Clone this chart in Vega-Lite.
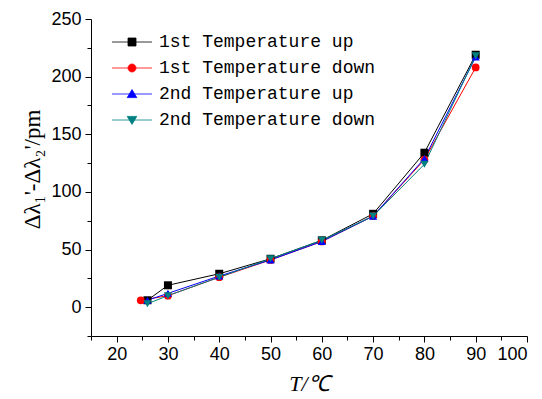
{
  "$schema": "https://vega.github.io/schema/vega-lite/v6.json",
  "autosize": "none",
  "width": 436,
  "height": 317,
  "padding": {"left": 91, "top": 19, "right": 15, "bottom": 63},
  "background": "white",
  "config": {
    "view": {"stroke": null},
    "axis": {"grid": false, "domainColor": "black", "tickColor": "black", "labelColor": "black", "titleColor": "black", "labelFont": "Liberation Sans", "labelFontSize": 18, "titleFont": "Liberation Serif", "titleFontSize": 22, "titleFontWeight": "normal"}
  },
  "data": {"values": [
    {"T": 26, "v": 6, "s": "1st Temperature up"},
    {"T": 30, "v": 19, "s": "1st Temperature up"},
    {"T": 40, "v": 29, "s": "1st Temperature up"},
    {"T": 50, "v": 42, "s": "1st Temperature up"},
    {"T": 60, "v": 58, "s": "1st Temperature up"},
    {"T": 70, "v": 81, "s": "1st Temperature up"},
    {"T": 80, "v": 134, "s": "1st Temperature up"},
    {"T": 90, "v": 219, "s": "1st Temperature up"},
    {"T": 24.7, "v": 6, "s": "1st Temperature down"},
    {"T": 30, "v": 10, "s": "1st Temperature down"},
    {"T": 40, "v": 26, "s": "1st Temperature down"},
    {"T": 50, "v": 41, "s": "1st Temperature down"},
    {"T": 60, "v": 57, "s": "1st Temperature down"},
    {"T": 70, "v": 79, "s": "1st Temperature down"},
    {"T": 80, "v": 128, "s": "1st Temperature down"},
    {"T": 90, "v": 208, "s": "1st Temperature down"},
    {"T": 26, "v": 6, "s": "2nd Temperature up"},
    {"T": 30, "v": 12, "s": "2nd Temperature up"},
    {"T": 40, "v": 27, "s": "2nd Temperature up"},
    {"T": 50, "v": 41, "s": "2nd Temperature up"},
    {"T": 60, "v": 57, "s": "2nd Temperature up"},
    {"T": 70, "v": 79, "s": "2nd Temperature up"},
    {"T": 80, "v": 129, "s": "2nd Temperature up"},
    {"T": 90, "v": 217, "s": "2nd Temperature up"},
    {"T": 26, "v": 3, "s": "2nd Temperature down"},
    {"T": 30, "v": 10, "s": "2nd Temperature down"},
    {"T": 40, "v": 26, "s": "2nd Temperature down"},
    {"T": 50, "v": 42, "s": "2nd Temperature down"},
    {"T": 60, "v": 58, "s": "2nd Temperature down"},
    {"T": 70, "v": 79, "s": "2nd Temperature down"},
    {"T": 80, "v": 124, "s": "2nd Temperature down"},
    {"T": 90, "v": 218, "s": "2nd Temperature down"}
  ]},
  "encoding": {
    "x": {"field": "T", "type": "quantitative", "scale": {"domain": [15, 100], "nice": false, "zero": false},
      "axis": {"title": "T/℃", "titleFontStyle": "italic", "values": [15,20,25,30,35,40,45,50,55,60,65,70,75,80,85,90,95,100],
        "labelExpr": "datum.value % 10 === 0 ? datum.label : ''", "tickSize": {"condition": {"test": "datum.value % 10 === 0", "value": 6}, "value": 4}, "labelPadding": 3, "titlePadding": 10}},
    "y": {"field": "v", "type": "quantitative", "scale": {"domain": [-25, 250], "nice": false, "zero": false},
      "axis": {"title": "Δλ₁'-Δλ₂'/pm", "titleFontSize": 23, "values": [-25,0,25,50,75,100,125,150,175,200,225,250],
        "labelExpr": "datum.value % 50 === 0 ? datum.label : ''", "tickSize": {"condition": {"test": "datum.value % 50 === 0", "value": 6}, "value": 4}, "labelPadding": 4, "titleX": -59, "titleY": 150, "titleBaseline": "middle", "titleAlign": "center"}},
    "color": {"field": "s", "type": "nominal",
      "scale": {"domain": ["1st Temperature up", "1st Temperature down", "2nd Temperature up", "2nd Temperature down"], "range": ["#000000", "#ff0000", "#0000ff", "#008080"]},
      "legend": {"title": null, "orient": "none", "legendX": 32, "legendY": 14, "labelFont": "Liberation Mono", "labelFontSize": 18, "labelColor": "black", "labelLimit": 400, "symbolSize": 256, "labelOffset": 18, "rowPadding": 8, "padding": 0,
        "encode": {"symbols": {"update": {
          "shape": {"signal": "datum.value === '1st Temperature up' ? 'M-2.5,0H2.5M-0.5,-0.5H0.5V0.5H-0.5Z' : datum.value === '1st Temperature down' ? 'M-2.5,0H2.5M-0.5,0A0.5,0.5 0 1,0 0.5,0A0.5,0.5 0 1,0 -0.5,0Z' : datum.value === '2nd Temperature up' ? 'M-2.5,0H2.5M0,-0.55L0.6,0.45H-0.6Z' : 'M-2.5,0H2.5M0,0.55L0.6,-0.45H-0.6Z'"},
          "stroke": {"scale": "color", "field": "value"},
          "fill": {"scale": "color", "field": "value"},
          "strokeWidth": {"value": 0.8},
          "opacity": {"value": 1}}}}}}
  },
  "layer": [
    {"mark": {"type": "line", "strokeWidth": 1},
      "encoding": {"order": {"field": "T"}}},
    {"transform": [{"filter": "datum.s === '1st Temperature up'"}], "mark": {"type": "point", "filled": true, "size": 64, "opacity": 1, "shape": "square"}},
    {"transform": [{"filter": "datum.s === '1st Temperature down'"}], "mark": {"type": "point", "filled": true, "size": 60, "opacity": 1, "shape": "circle"}},
    {"transform": [{"filter": "datum.s === '2nd Temperature up'"}], "mark": {"type": "point", "filled": true, "size": 66, "opacity": 1, "shape": "triangle-up"}},
    {"transform": [{"filter": "datum.s === '2nd Temperature down'"}], "mark": {"type": "point", "filled": true, "size": 66, "opacity": 1, "shape": "triangle-down"}}
  ]
}
